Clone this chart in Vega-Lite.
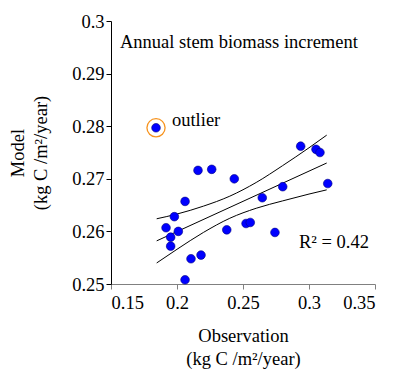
{
  "$schema": "https://vega.github.io/schema/vega-lite/v6.json",
  "autosize": {"type": "none"},
  "width": 264,
  "height": 263,
  "padding": {"left": 111, "top": 21, "right": 20, "bottom": 87},
  "background": "white",
  "config": {
    "view": {"stroke": null},
    "font": "'Liberation Serif', 'Times New Roman', serif",
    "axis": {"labelFont": "'Liberation Serif', 'Times New Roman', serif", "titleFont": "'Liberation Serif', 'Times New Roman', serif", "labelFontSize": 18.5, "titleFontSize": 18.5, "labelColor": "black", "titleColor": "black", "titleFontWeight": "normal", "grid": false, "tickSize": 5, "tickColor": "black", "domainColor": "black", "labelPadding": 3}
  },
  "datasets": {
    "pts": [
      {"obs": 0.1841, "model": 0.2797, "outlier": true},
      {"obs": 0.2937, "model": 0.2762, "outlier": false},
      {"obs": 0.3053, "model": 0.2756, "outlier": false},
      {"obs": 0.3083, "model": 0.2750, "outlier": false},
      {"obs": 0.2159, "model": 0.2716, "outlier": false},
      {"obs": 0.2263, "model": 0.2718, "outlier": false},
      {"obs": 0.2434, "model": 0.2700, "outlier": false},
      {"obs": 0.2801, "model": 0.2685, "outlier": false},
      {"obs": 0.3142, "model": 0.2691, "outlier": false},
      {"obs": 0.2646, "model": 0.2664, "outlier": false},
      {"obs": 0.2061, "model": 0.2657, "outlier": false},
      {"obs": 0.1980, "model": 0.2628, "outlier": false},
      {"obs": 0.1917, "model": 0.2607, "outlier": false},
      {"obs": 0.2010, "model": 0.2600, "outlier": false},
      {"obs": 0.1952, "model": 0.2589, "outlier": false},
      {"obs": 0.2377, "model": 0.2603, "outlier": false},
      {"obs": 0.2523, "model": 0.2615, "outlier": false},
      {"obs": 0.2555, "model": 0.2617, "outlier": false},
      {"obs": 0.2742, "model": 0.2598, "outlier": false},
      {"obs": 0.1952, "model": 0.2572, "outlier": false},
      {"obs": 0.2106, "model": 0.2548, "outlier": false},
      {"obs": 0.2182, "model": 0.2555, "outlier": false},
      {"obs": 0.2061, "model": 0.2508, "outlier": false}
    ],
    "bands": [
      {"band": "upper", "obs": 0.1846, "model": 0.2624},
      {"band": "upper", "obs": 0.20, "model": 0.2633},
      {"band": "upper", "obs": 0.22, "model": 0.2648},
      {"band": "upper", "obs": 0.24, "model": 0.2667},
      {"band": "upper", "obs": 0.26, "model": 0.2693},
      {"band": "upper", "obs": 0.28, "model": 0.2725},
      {"band": "upper", "obs": 0.30, "model": 0.2759},
      {"band": "upper", "obs": 0.3134, "model": 0.2783},
      {"band": "fit", "obs": 0.1846, "model": 0.2582},
      {"band": "fit", "obs": 0.3134, "model": 0.2730},
      {"band": "lower", "obs": 0.1846, "model": 0.2540},
      {"band": "lower", "obs": 0.20, "model": 0.2566},
      {"band": "lower", "obs": 0.22, "model": 0.2598},
      {"band": "lower", "obs": 0.24, "model": 0.2625},
      {"band": "lower", "obs": 0.26, "model": 0.2644},
      {"band": "lower", "obs": 0.28, "model": 0.2658},
      {"band": "lower", "obs": 0.30, "model": 0.2671},
      {"band": "lower", "obs": 0.3134, "model": 0.2679}
    ],
    "labels": [
      {"obs": 0.1568, "model": 0.2960, "text": "Annual stem biomass increment"},
      {"obs": 0.2924, "model": 0.2579, "text": "R² = 0.42"},
      {"obs": 0.1962, "model": 0.2812, "text": "outlier"}
    ]
  },
  "encoding": {
    "x": {"field": "obs", "type": "quantitative", "scale": {"domain": [0.15, 0.35], "nice": false, "zero": false},
      "axis": {"values": [0.15, 0.2, 0.25, 0.3, 0.35], "format": "~g", "title": ["Observation", "(kg C /m²/year)"], "titlePadding": 15, "titleLineHeight": 23, "domainColor": "#808080", "tickColor": "#808080", "labelPadding": 4}},
    "y": {"field": "model", "type": "quantitative", "scale": {"domain": [0.25, 0.3], "nice": false, "zero": false},
      "axis": {"values": [0.25, 0.26, 0.27, 0.28, 0.29, 0.3], "format": "~g", "title": ["Model", "(kg C /m²/year)"], "titlePadding": 21, "titleLineHeight": 23, "labelPadding": 2}}
  },
  "layer": [
    {
      "data": {"name": "bands"},
      "mark": {"type": "line", "color": "black", "strokeWidth": 1, "interpolate": "monotone"},
      "encoding": {"detail": {"field": "band"}}
    },
    {
      "data": {"name": "pts"},
      "mark": {"type": "point", "shape": "circle", "filled": true, "fill": "#0000ff", "stroke": "#00007f", "strokeWidth": 0.6, "size": 75, "opacity": 1}
    },
    {
      "data": {"name": "pts"},
      "transform": [{"filter": "datum.outlier"}],
      "mark": {"type": "point", "shape": "circle", "filled": false, "stroke": "#f7931e", "strokeWidth": 1.3, "size": 330, "opacity": 1}
    },
    {
      "data": {"name": "labels"},
      "mark": {"type": "text", "align": "left", "baseline": "middle", "fontSize": 18.5, "color": "black"},
      "encoding": {"text": {"field": "text"}}
    }
  ]
}
